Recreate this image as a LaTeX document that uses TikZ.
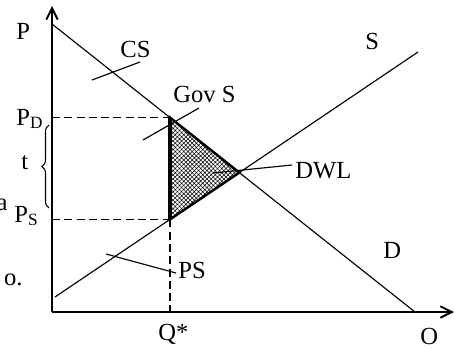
\documentclass[tikz,border=0pt]{standalone}
\usepackage{fontspec}
\setmainfont{Liberation Serif}
\usetikzlibrary{arrows.meta,patterns.meta,decorations.pathreplacing}
\begin{document}
\begin{tikzpicture}[x=0.02cm, y=-0.02cm,
    every node/.style={font=\fontsize{14}{16}\selectfont, inner sep=0pt, anchor=base west},
    axis/.style={line width=1.1pt, -{Straight Barb[length=6.5pt,width=6.5pt]}},
    curve/.style={line width=0.65pt},
    leader/.style={line width=0.65pt},
    guide/.style={line width=0.65pt, dash pattern=on 4.5pt off 2.5pt},
    dwlarea/.style={pattern={Hatch[angle=45,distance=1.7pt,line width=0.3pt]}},
    dwledge/.style={line width=1.4pt, line join=miter}]
    \useasboundingbox (0,0) rectangle (455,348);

    \coordinate (origin) at (52,312);
    \coordinate (ytop) at (52,6);
    \coordinate (xend) at (454,312);

    % demand and supply
    \coordinate (dtop) at (52,24);
    \coordinate (dbot) at (415,312);
    \coordinate (sbot) at (55,297);
    \coordinate (stop) at (418,52);
    \coordinate (eq) at (239.3,172.6);
    \coordinate (pd) at (170,117.6);
    \coordinate (ps) at (170,219.4);
    \coordinate (qs) at (170,312);
    \coordinate (pdaxis) at (52,117.6);
    \coordinate (psaxis) at (52,219.4);

    \fill[dwlarea] (pd) -- (eq) -- (ps) -- cycle;
    \draw[dwledge] (pd) -- (eq) -- (ps) -- cycle;
    \draw[line width=1.8pt] (pd) -- (ps);

    \draw[axis] (origin) -- (ytop);
    \draw[axis] (origin) -- (xend);
    \draw[curve] (dtop) -- (dbot);
    \draw[curve] (sbot) -- (stop);

    \draw[guide] (pdaxis) -- (pd);
    \draw[guide] (psaxis) -- (ps);
    \draw[guide] (ps) -- (qs);

    % tax wedge
    \coordinate (bracebot) at (49,208);
    \coordinate (bracetop) at (49,125);
    \draw[decorate, decoration={brace, amplitude=4pt}, line width=0.6pt] (bracebot) -- (bracetop);

    % labels
    \node (plabel) at (16,40) {P};
    \node (pdlabel) at (16,125) {P\textsubscript{D}};
    \node (tlabel) at (21,169) {t};
    \node[anchor=base east] (alabel) at (8,210) {a};
    \node (pslabel) at (14,222) {P\textsubscript{S}};
    \node[anchor=base east] (olabel) at (23,285) {o.};
    \node (cslabel) at (120,57) {CS};
    \node (govlabel) at (173,102) {Gov S};
    \node (slabel) at (365,50) {S};
    \node (dwllabel) at (295,178) {DWL};
    \node (dlabel) at (383,258) {D};
    \node (pslab) at (178,278) {PS};
    \node (qlabel) at (158,340) {Q*};
    \node (olab) at (420,344) {O};

    % leaders
    \coordinate (cs1) at (92,80);
    \coordinate (cs2) at (140,62);
    \coordinate (gov1) at (143,140);
    \coordinate (gov2) at (199,108);
    \coordinate (dwl1) at (213,173);
    \coordinate (dwl2) at (292,165);
    \coordinate (ps1) at (106,254);
    \coordinate (ps2) at (176,273);
    \draw[leader] (cs1) -- (cs2);
    \draw[leader] (gov1) -- (gov2);
    \draw[leader] (dwl1) -- (dwl2);
    \draw[leader] (ps1) -- (ps2);
\end{tikzpicture}
\end{document}
